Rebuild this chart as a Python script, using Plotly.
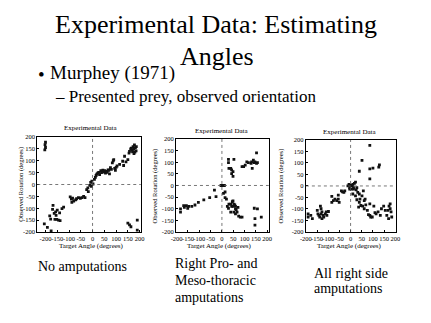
import plotly.graph_objects as go

W, H = 431, 323
FONT = "Liberation Serif"

# ---------------- data ----------------
p1_x = [-200, -202, -200, -203,
        -205, -192, -176, -182, -178, -168, -163, -157, -150, -160, -152, -145, -130, -123, -138, -170, -155, -140,
        -95, -90, -85, -80, -72, -68, -60, -52, -45, -38, -32, -88,
        -25, -20, -12, -8, -3, -18, -5, 2,
        8, 12, 15, 18, 22, 26, 30, 35, 38, 42, 44, 48, 52, 55, 60, 62, 66, 69, 72, 76, 80, 84, 88, 90, 94, 97, 100, 104,
        115, 128, 132, 136, 142, 150, 155, 157, 162, 165, 168, 172, 175, 176, 178, 180, 182, 185, 186, 170,
        150, 157, 163, 190, 190]
p1_y = [178, 168, 156, 146,
        -166, -181, -196, -132, -146, -88, -122, -115, -108, -147, -147, -150, -102, -95, -152, -105, -130, -120,
        -52, -62, -58, -70, -65, -60, -55, -58, -55, -50, -55, -75,
        -22, -14, -4, 9, 14, -30, -8, 2,
        22, 30, 38, 44, 48, 51, 42, 58, 50, 55, 60, 52, 58, 48, 55, 51, 62, 60, 45, 71, 64, 91, 100, 105, 68, 60, 72, 78,
        85, 98, 80, 119, 95, 105, 132, 140, 150, 153, 145, 160, 150, 130, 167, 137, 155, 142, 160, 138,
        -163, -170, -178, -150, -192]

p2_x = [-183, -183, -169, -166, -157, -147, -151, -133, -119, -104, -80, -54, -33, -26,
        -4, 6, 11, 7, 14,
        29, 29, 31, 39, 43, 49, 43, 49, 53,
        89, 96, 103, 110, 117, 129, 131, 134, 139, 143, 146, 153, 153, 157,
        14, 20, 24, 29, 31, 39, 43, 49, 46, 49, 53, 57, 60, 63, 53, 60, 67, 74, 81, 89, 60, 71, 39,
        143, 157, 146, 146, 174]
p2_y = [-101, -115, -87, -94, -87, -90, -98, -90, -84, -73, -62, -52, -20, -48,
        0, 0, 0, -34, -28,
        112, 98, 74, 74, 67, 60, 51, 39, 112,
        81, 81, 88, 102, 98, 95, 102, 74, 109, 98, 102, 95, 140, 98,
        -52, -59, -90, -98, -80, -80, -90, -90, -70, -66, -80, -84, -90, -104, -115, -122, -115, -132, -136, -136, -101, -94, -115,
        -98, -101, -143, -171, -136]

p3_x = [-190, -190, -178, -171, -149, -146, -142, -138, -135, -132, -128, -132, -123, -120, -128, -113, -109, -106, -99,
        -84, -84, -77, -70, -62, -55, -51, -41, -36, -30, -26, -55,
        -12, -7, -4, 0, 3, 7, 10, 13, 17, -4, 22, 13, 25, 28,
        39, 51, 86, 86, 86, 100, 126, 129,
        32, 39, 42, 51, 57, 61, 39, 46, 54, 36, 61, 68, 75, 80, 86, 90, 97, 86, 104, 109, 114, 123, 133, 138,
        148, 155, 162, 167, 172, 177, 177, 181, 184, 170, 22, 28, 10, 65]
p3_y = [-121, -135, -128, -142, -106, -121, -128, -135, -88, -99, -113, -121, -128, -135, -142, -121, -113, -128, -111,
        -45, -71, -64, -57, -64, -57, -71, -21, -26, -28, -21, -40,
        0, 7, -7, 3, -14, 0, 7, -7, 11, -14, 17, -14, -17, -7,
        64, 111, 177, 74, 31, 78, 82, 92,
        -28, -35, -57, -43, -21, -64, -71, -85, -88, -92, -99, -82, -106, -125, -128, -135, -135, -78, -88, -116, -121, -113, -128, -99,
        -88, -106, -128, -106, -88, -78, -99, -113, -135, -142, -43, -60, -35, -57]

tick_vals = [-200, -150, -100, -50, 0, 50, 100, 150, 200]
tick_text = [str(v) for v in tick_vals]

plot_title = "Experimental Data"
x_title = "Target Angle (degrees)"
y_title = "Observed Rotation (degrees)"

# ---------------- layout geometry (pixels) ----------------
boxes = [  # left, right, top, bottom, xrange
    (32, 138, 136, 233, [-235, 205]),
    (174, 269, 138, 233, [-203, 207]),
    (307, 399, 139, 233, [-200, 202]),
]

fig = go.Figure()
data = [(p1_x, p1_y), (p2_x, p2_y), (p3_x, p3_y)]

def px(x):
    return x / W

def py(y):
    return 1 - y / H

layout = dict(
    width=W, height=H,
    margin=dict(l=0, r=0, t=0, b=0),
    paper_bgcolor="white", plot_bgcolor="white",
    showlegend=False,
    font=dict(family=FONT, color="black"),
)

shapes = []
for i, ((l, r, t, b, xr), (xs, ys)) in enumerate(zip(boxes, data), start=1):
    sx = "" if i == 1 else str(i)
    fig.add_trace(go.Scatter(
        x=xs, y=ys, mode="markers",
        marker=dict(symbol="square", size=2.8, color="#111111"),
        xaxis="x" + sx, yaxis="y" + sx, hoverinfo="skip",
    ))
    common = dict(
        showgrid=False, zeroline=False, showline=True, linecolor="black", linewidth=1,
        mirror=True, ticks="inside", ticklen=2, tickcolor="black", tickwidth=1,
        tickmode="array", tickvals=tick_vals, ticktext=tick_text, tickangle=0,
        tickfont=dict(family=FONT, size=6.5, color="black"),
    )
    layout["xaxis" + sx] = dict(common, domain=[px(l), px(r)], range=xr, anchor="y" + sx)
    layout["yaxis" + sx] = dict(common, domain=[py(b), py(t)], range=[-200, 200], anchor="x" + sx)
    shapes.append(dict(type="line", xref="x" + sx, yref="y" + sx + " domain", x0=0, x1=0, y0=0, y1=1,
                       line=dict(color="#555555", width=0.8, dash="dot")))
    shapes.append(dict(type="line", xref="x" + sx + " domain", yref="y" + sx, x0=0, x1=1, y0=0, y1=0,
                       line=dict(color="#555555", width=0.8, dash="dot")))

layout["shapes"] = shapes

ann = []
def text(s, x, y, size, xanchor="center", angle=0):
    ann.append(dict(text=s, x=px(x), y=py(y), xref="paper", yref="paper",
                    xanchor=xanchor, yanchor="middle", showarrow=False, textangle=angle,
                    font=dict(family=FONT, size=size, color="black")))

# slide text
text("Experimental Data: Estimating", 215, 21, 26)
text("Angles", 216, 54, 26)
text("•", 31, 72, 19, xanchor="left")
text("Murphey (1971)", 43, 71, 19, xanchor="left")
text("– Presented prey, observed orientation", 48, 95, 17, xanchor="left")

# chart decorations
title_pos = [(87.5, 127), (221, 130), (352, 130.5)]
xt_pos = [(87.5, 247.5), (219, 247.5), (352, 247.5)]
yt_pos = [(15, 184), (152, 186), (282, 186)]
for (tx, ty), (xx, xy), (yx, yy) in zip(title_pos, xt_pos, yt_pos):
    text(plot_title, tx, ty, 7)
    text(x_title, xx, xy, 7)
    text(y_title, yx, yy, 6.5, angle=-90)

# captions
text("No amputations", 31, 268, 14, xanchor="left")
text("Right Pro- and", 171, 265, 14, xanchor="left")
text("Meso-thoracic", 171, 283, 14, xanchor="left")
text("amputations", 171, 300, 14, xanchor="left")
text("All right side", 313, 275, 14, xanchor="left")
text("amputations", 313, 291, 14, xanchor="left")

layout["annotations"] = ann
fig.update_layout(**layout)
fig.write_html("out.html")
